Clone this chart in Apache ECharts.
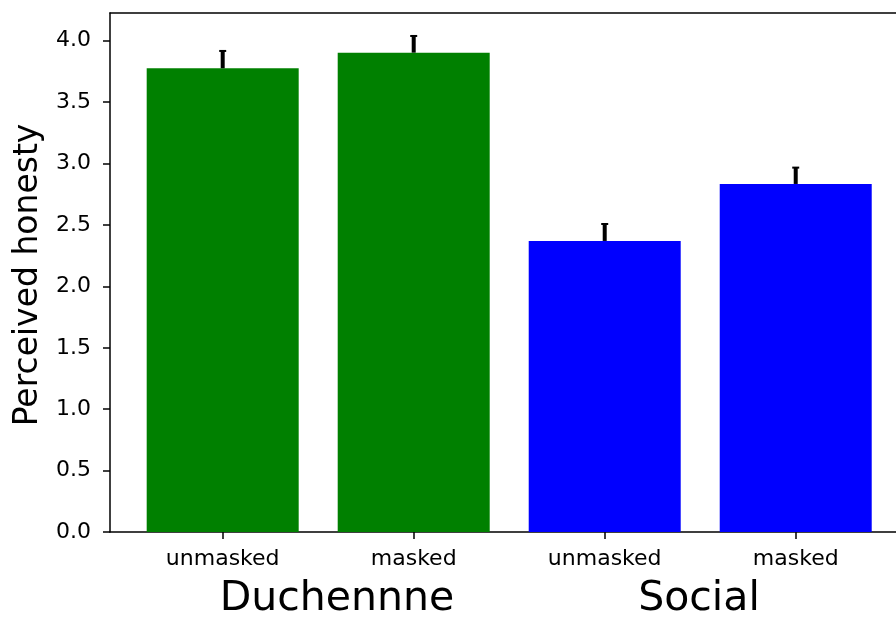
<!DOCTYPE html>
<html>
<head>
<meta charset="utf-8">
<script src="https://cdn.jsdelivr.net/npm/echarts@6/dist/echarts.min.js"></script>
<style>
  html, body { margin: 0; padding: 0; background: #fff; }
  #chart { width: 896px; height: 619px; }
</style>
</head>
<body>
<div id="chart"></div>
<script>
// Condition labels under each bar, and the smile-type group names
const categories = ['unmasked', 'masked', 'unmasked', 'masked'];
const groups = ['Duchennne', 'Social'];
// Mean perceived honesty and its standard error for each condition
const honesty = [3.776, 3.903, 2.370, 2.834];
const errors = [0.141, 0.136, 0.138, 0.133];
const barColors = ['#008000', '#008000', '#0000ff', '#0000ff'];
const yTicks = [0, 0.5, 1.0, 1.5, 2.0, 2.5, 3.0, 3.5, 4.0];
const xTicks = [0, 1, 2, 3];

const FONT = 'DejaVu Sans';
const X_MIN = -0.59, X_MAX = 3.525;
const chart = echarts.init(document.getElementById('chart'), null, { renderer: 'canvas' });

const barData = honesty.map((v, i) => ({
  value: [xTicks[i], v],
  itemStyle: { color: barColors[i] }
}));
const errData = honesty.map((v, i) => [xTicks[i], v, errors[i]]);

chart.setOption({
  animation: false,
  backgroundColor: '#ffffff',
  grid: { left: 110, top: 13, right: 0, bottom: 87, containLabel: false },
  xAxis: [
    {
      type: 'value',
      min: X_MIN,
      max: X_MAX,
      position: 'bottom',
      splitLine: { show: false },
      axisLine: { show: true, onZero: false, lineStyle: { color: '#000', width: 1.5 } },
      axisTick: { show: true, customValues: xTicks, length: 7, lineStyle: { color: '#000', width: 1.5 } },
      axisLabel: {
        show: true,
        customValues: xTicks,
        formatter: v => categories[Math.round(v)],
        fontFamily: FONT, fontSize: 22, color: '#000', margin: 16
      }
    },
    {
      type: 'value',
      min: X_MIN,
      max: X_MAX,
      position: 'top',
      splitLine: { show: false },
      axisLine: { show: true, onZero: false, lineStyle: { color: '#000', width: 1.5 } },
      axisTick: { show: false },
      axisLabel: { show: false }
    }
  ],
  yAxis: {
    type: 'value',
    min: 0,
    max: 4.226,
    splitLine: { show: false },
    axisLine: { show: true, onZero: false, lineStyle: { color: '#000', width: 1.5 } },
    axisTick: { show: true, customValues: yTicks, length: 7, lineStyle: { color: '#000', width: 1.5 } },
    axisLabel: {
      show: true,
      customValues: yTicks,
      formatter: v => v.toFixed(1),
      fontFamily: FONT, fontSize: 22, color: '#000', margin: 19
    }
  },
  series: [
    {
      type: 'bar',
      xAxisIndex: 0,
      data: barData,
      barWidth: 152,
      z: 2
    },
    {
      type: 'custom',
      xAxisIndex: 0,
      data: errData,
      encode: { x: 0, y: 1 },
      z: 5,
      renderItem: function (params, api) {
        const x = api.value(0), y = api.value(1), e = api.value(2);
        const p0 = api.coord([x, y]);
        const p1 = api.coord([x, y + e]);
        return {
          type: 'group',
          children: [
            { type: 'line', shape: { x1: p0[0], y1: p0[1], x2: p1[0], y2: p1[1] },
              style: { stroke: '#000', lineWidth: 4 } },
            { type: 'line', shape: { x1: p1[0] - 3.5, y1: p1[1], x2: p1[0] + 3.5, y2: p1[1] },
              style: { stroke: '#000', lineWidth: 2 } }
          ]
        };
      }
    }
  ],
  graphic: [
    {
      type: 'text', x: 28, y: 275, rotation: Math.PI / 2,
      style: { text: 'Perceived honesty', fontFamily: FONT, fontSize: 33, fill: '#000',
               align: 'center', verticalAlign: 'middle' }
    },
    {
      type: 'text', x: 337, y: 599,
      style: { text: groups[0], fontFamily: FONT, fontSize: 41, fill: '#000',
               align: 'center', verticalAlign: 'middle' }
    },
    {
      type: 'text', x: 699, y: 599,
      style: { text: groups[1], fontFamily: FONT, fontSize: 41, fill: '#000',
               align: 'center', verticalAlign: 'middle' }
    }
  ]
});
</script>
</body>
</html>
